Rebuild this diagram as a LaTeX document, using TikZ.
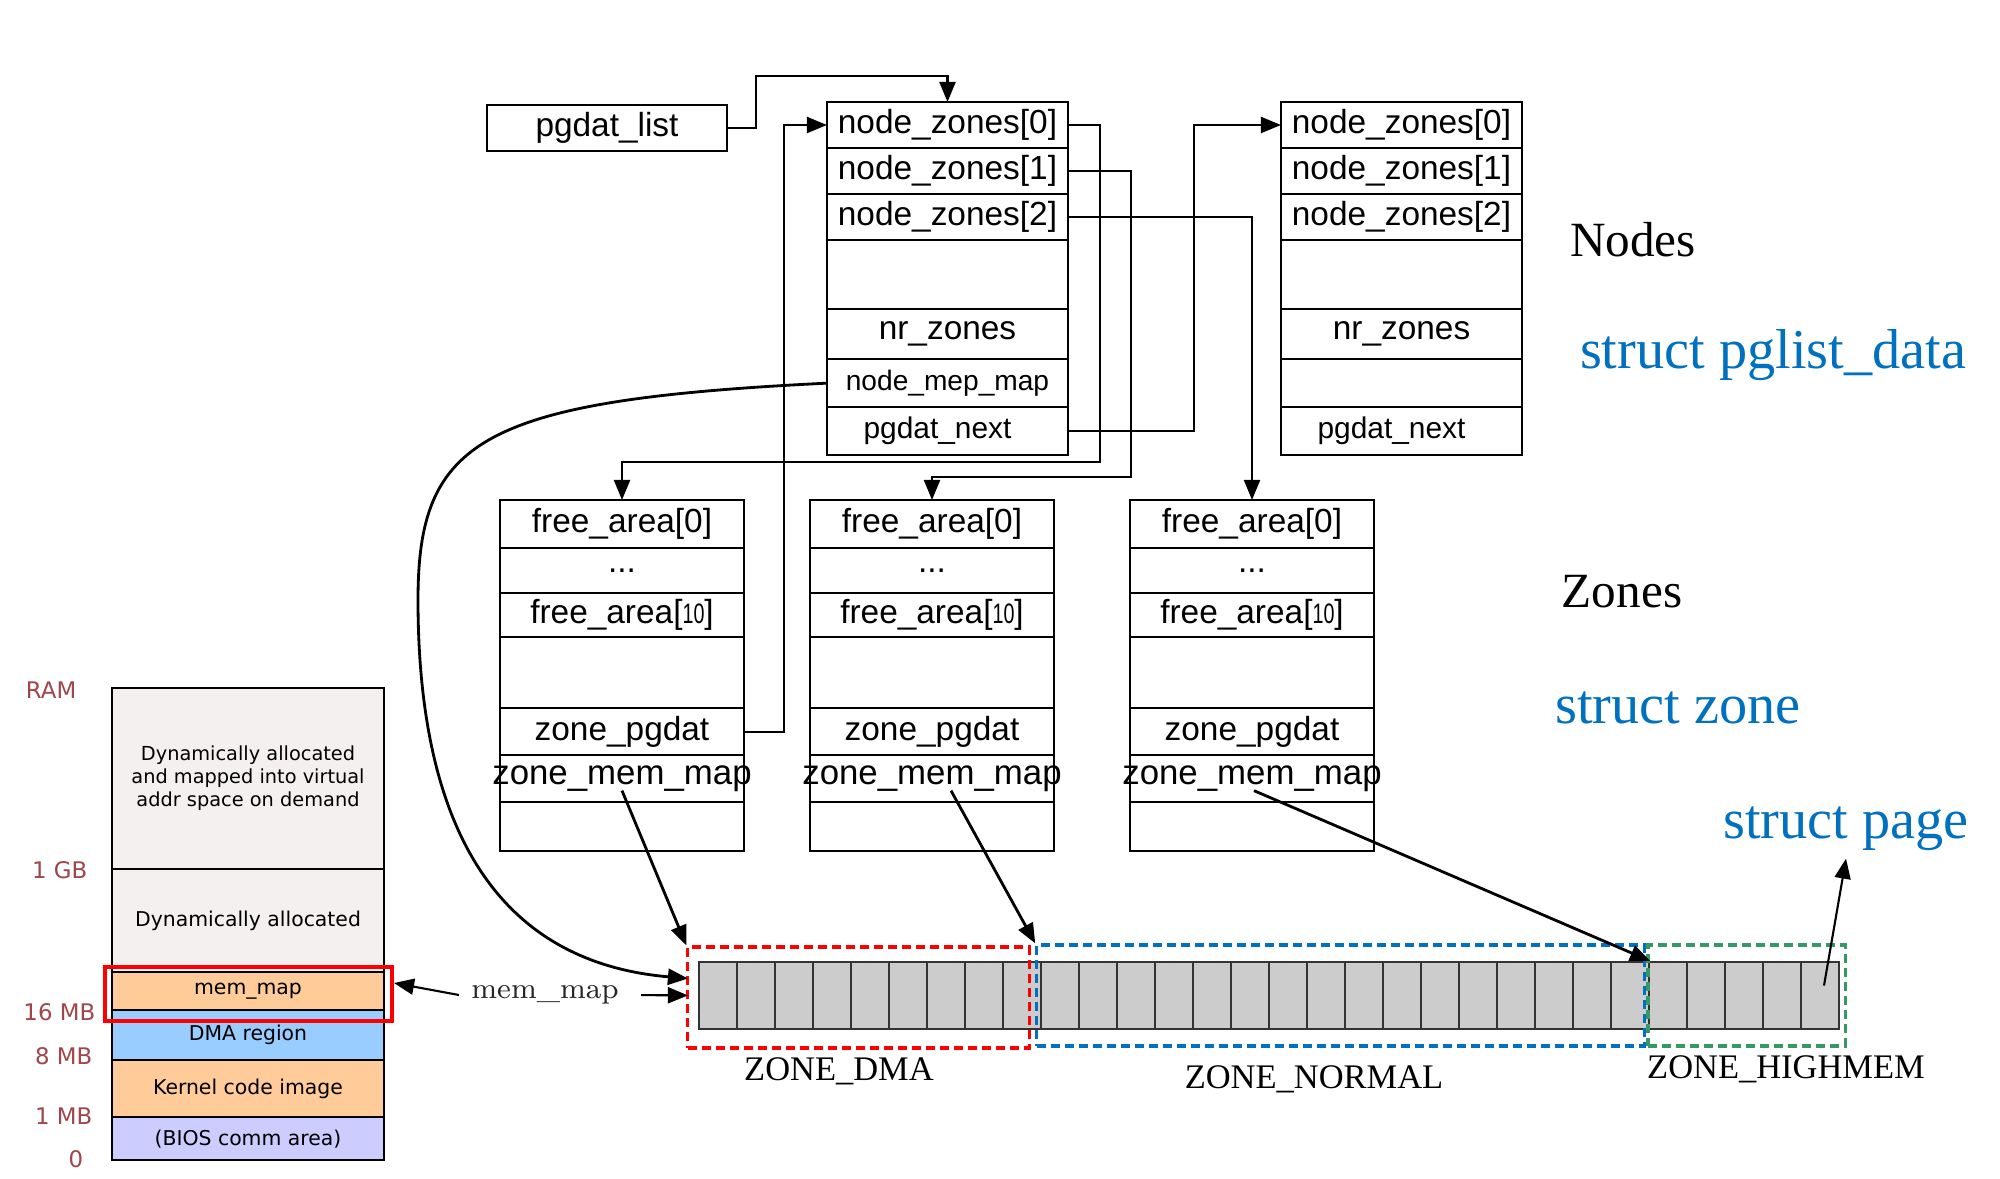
\documentclass[tikz,border=0pt]{standalone}
\usepackage{fontspec}
\usepackage{graphicx}
\newfontfamily\boxfont{Liberation Sans}
\newfontfamily\titlefont{Liberation Serif}
\newfontfamily\ramfont{DejaVu Sans}
\usetikzlibrary{arrows.meta,positioning,calc}
\definecolor{structblue}{HTML}{0070C0}
\definecolor{ramred}{HTML}{A0464B}
\definecolor{ramgray}{HTML}{F3F0EF}
\definecolor{ramorange}{HTML}{FFCC99}
\definecolor{ramblue}{HTML}{99CCFF}
\definecolor{ramlilac}{HTML}{CCCCFF}
\definecolor{zonegreen}{HTML}{339966}
\definecolor{cellgray}{HTML}{CCCCCC}
\newcommand\tenidx{\scalebox{0.7}[1]{\fontsize{8}{9}\selectfont 10}}

\begin{document}
\begin{tikzpicture}[x=0.01cm,y=-0.01cm,
  fld/.style={draw,line width=0.6pt,inner sep=0pt,outer sep=0pt,minimum width=2.41cm,font=\boxfont\fontsize{9.5}{11}\selectfont},
  zfld/.style={fld,minimum width=2.44cm},
  ramfld/.style={draw,line width=0.6pt,inner sep=0pt,outer sep=0pt,minimum width=2.72cm,align=center,font=\ramfont\fontsize{5.8}{6.6}\selectfont},
  ramlbl/.style={text=ramred,inner sep=0pt,font=\ramfont\fontsize{6.5}{7.5}\selectfont},
  cell/.style={draw=black!80,fill=cellgray,line width=0.6pt,minimum width=0.38cm,minimum height=0.67cm,inner sep=0pt},
  zbox/.style={draw=#1,line width=0.9pt,dash pattern=on 0.9mm off 0.5mm,minimum height=1.01cm,inner sep=0pt},
  arr/.style={-{Triangle[length=2mm,width=1.6mm]},line width=0.6pt},
  title/.style={font=\titlefont\fontsize{14}{16}\selectfont},
  stitle/.style={font=\titlefont\fontsize{16}{18}\selectfont,text=structblue,inner sep=2pt},
  zlbl/.style={font=\titlefont\fontsize{9.8}{11}\selectfont}]
\fill[white] (0,0) rectangle (2000,1179);
\useasboundingbox (0,0) rectangle (2000,1179);

% pglist_data
\node[fld,minimum width=2.40cm,minimum height=0.46cm] (plist) at (607,128) {pgdat\_list};
\foreach \k/\x in {1/947.5,2/1401.5}{
 \node[fld,minimum height=0.46cm] (n\k-z0) at (\x,125) {node\_zones[0]};
 \node[fld,minimum height=0.46cm,below=0pt of n\k-z0] (n\k-z1) {node\_zones[1]};
 \node[fld,minimum height=0.46cm,below=0pt of n\k-z1] (n\k-z2) {node\_zones[2]};
 \node[fld,minimum height=0.69cm,below=0pt of n\k-z2] (n\k-gap) {};
 \node[fld,minimum height=0.50cm,below=0pt of n\k-gap] (n\k-nr) {nr\_zones};
 \node[fld,minimum height=0.48cm,below=0pt of n\k-nr,font=\boxfont\fontsize{8}{9}\selectfont] (n\k-map) {\ifnum\k=1 node\_mep\_map\fi};
 \node[fld,minimum height=0.48cm,below=0pt of n\k-map,font=\boxfont\fontsize{8.5}{10}\selectfont] (n\k-next) {\hspace*{-0.2cm}pgdat\_next};
}

% zones
\foreach \k/\x in {1/622,2/932,3/1252}{
 \node[zfld,minimum height=0.48cm] (z\k-f0) at (\x,524) {free\_area[0]};
 \node[zfld,minimum height=0.45cm,below=0pt of z\k-f0] (z\k-dots) {...};
 \node[zfld,minimum height=0.44cm,below=0pt of z\k-dots] (z\k-f10) {free\_area[\tenidx]};
 \node[zfld,minimum height=0.71cm,below=0pt of z\k-f10] (z\k-gap) {};
 \node[zfld,minimum height=0.47cm,below=0pt of z\k-gap] (z\k-pg) {zone\_pgdat};
 \node[zfld,minimum height=0.47cm,below=0pt of z\k-pg] (z\k-mm) {\makebox[0pt]{\fontsize{9.9}{11}\selectfont zone\_mem\_map}};
 \node[zfld,minimum height=0.49cm,below=0pt of z\k-mm] (z\k-end) {};
}

\draw[arr] (plist.east) -- ++(29,0) |- ($(n1-z0.north)+(0,-26)$) -- (n1-z0.north);
\draw[arr] (z1-pg.east) -- ++(40,0) |- (n1-z0.west);
\draw[arr] (n1-z0.east) -- ++(32,0) -- ++(0,337) -| (z1-f0.north);
\draw[arr] (n1-z1.east) -- ++(63,0) -- ++(0,306) -| (z2-f0.north);
\draw[arr] (n1-z2.east) -| (z3-f0.north);
\draw[arr] (n1-next.east) -- ++(126,0) |- (n2-z0.west);

% RAM layout
\node[ramfld,fill=ramgray,minimum height=1.81cm,font=\ramfont\fontsize{5.5}{6.5}\selectfont] (ram-top) at (248,778.5) {Dynamically allocated\\and mapped into virtual\\addr space on demand};
\node[ramfld,fill=ramgray,minimum height=1.03cm,below=0pt of ram-top] (ram-dyn) {Dynamically allocated};
\node[ramfld,fill=ramorange,minimum height=0.38cm,below=0pt of ram-dyn] (ram-mm) {mem\_map};
\node[ramfld,fill=ramblue,minimum height=0.50cm,below=0pt of ram-mm] (ram-dma) {DMA region};
\node[ramfld,fill=ramorange,minimum height=0.57cm,below=0pt of ram-dma] (ram-kern) {Kernel code image};
\node[ramfld,fill=ramlilac,minimum height=0.43cm,below=0pt of ram-kern] (ram-bios) {(BIOS comm area)};
\node[draw=red,line width=1.1pt,minimum width=2.87cm,minimum height=0.54cm,inner sep=0pt] (mmframe) at (248.5,994) {};
\node[ramlbl,anchor=east] (lbl-ram) at ($(ram-top.north west)+(-35,2)$) {RAM};
\node[ramlbl,anchor=east] (lbl-1g) at ($(ram-dyn.north west)+(-24,1)$) {1 GB};
\node[ramlbl,anchor=east] (lbl-16m) at ($(ram-dma.north west)+(-16,2)$) {16 MB};
\node[ramlbl,anchor=east] (lbl-8m) at ($(ram-kern.north west)+(-19,-4)$) {8 MB};
\node[ramlbl,anchor=east] (lbl-1m) at ($(ram-bios.north west)+(-19,-1)$) {1 MB};
\node[ramlbl,anchor=east] (lbl-0) at ($(ram-bios.south west)+(-28,-1)$) {0};

% struct page array
\foreach \i [evaluate=\i as \x using 680+38*\i] in {1,...,30}
 \node[cell] (c\i) at (\x,995.5) {};
\node[zbox=red,minimum width=3.41cm] (dma) at (858.5,997.5) {};
\node[zbox=structblue,minimum width=6.07cm] (norm) at (1340.5,995.5) {};
\node[zbox=zonegreen,minimum width=1.97cm] (high) at (1746.5,995.5) {};
\node[zlbl] (l-dma) at (839,1071) {ZONE\_DMA};
\node[zlbl] (l-normal) at (1314,1079) {ZONE\_NORMAL};
\node[zlbl] (l-high) at (1786,1069) {ZONE\_HIGHMEM};

\node[font=\fontsize{8.3}{10}\selectfont,text=black!85] (mmlbl) at (545,995) {mem\_map};
\draw[arr] (mmlbl.west) -- ($(mmframe.east)+(0,-11)$);
\draw[arr,shorten <=1mm,shorten >=1mm] (mmlbl.east) -- (c1.west);

\coordinate (mapbend) at (418,600);
\coordinate (mapend) at ($(c1.west)+(-10,-17)$);
\draw[arr,line width=0.8pt] (n1-map.west) .. controls +(-347,17) and +(0,-160) .. (mapbend)
  .. controls +(0,200) and +(-209,-18) .. (mapend);

\foreach \k/\dx/\tgt in {1/0/dma.north west,2/19/norm.north west,3/2/c25.north east}
 \draw[arr,line width=0.8pt] ($(z\k-mm.center)+(\dx,12)$) -- (\tgt);

% titles
\node[title] (t-nodes) at (1633,240) {Nodes};
\node[stitle] (t-pglist) at (1773,355) {struct pglist\_data};
\node[title] (t-zones) at (1622,592) {Zones};
\node[stitle] (t-zone) at (1678,708) {struct zone};
\node[stitle] (spage) at (1846,829) {struct page};
\draw[arr] ($(c30.center)+(4,-10)$) -- (spage.south);
\end{tikzpicture}
\end{document}
